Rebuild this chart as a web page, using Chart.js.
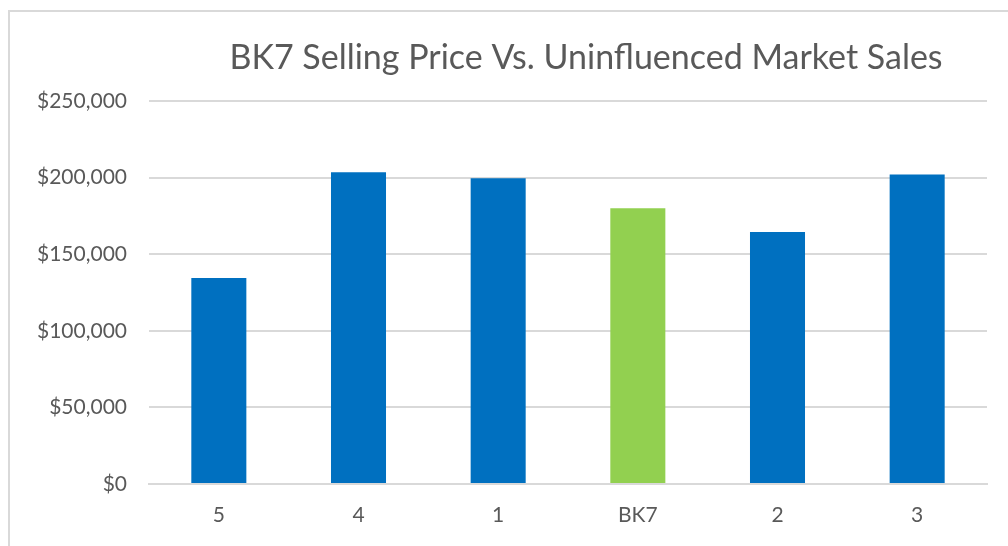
<!DOCTYPE html>
<html>
<head>
<meta charset="utf-8">
<script src="https://cdn.jsdelivr.net/npm/chart.js@4"></script>
<style>
  html, body { margin: 0; padding: 0; background: #fff; }
  #wrap { width: 1008px; height: 546px; position: relative; }
</style>
</head>
<body>
<div id="wrap"><canvas id="priceChart" width="1008" height="546"></canvas></div>
<script>
// chart data
var categories = ["5", "4", "1", "BK7", "2", "3"];
var prices = [134500, 203500, 199500, 180000, 164500, 202000];
var yTicks = [0, 50000, 100000, 150000, 200000, 250000];
var chartTitle = "BK7 Selling Price Vs. Uninfluenced Market Sales";

var blue = "#0070C0";
var green = "#92D050";
var barColors = categories.map(function (c) { return c === "BK7" ? green : blue; });

// outer frame, like the spreadsheet chart border
var framePlugin = {
    id: "frame",
    beforeDraw: function (chart) {
        var ctx = chart.ctx;
        ctx.save();
        ctx.fillStyle = "#fff";
        ctx.fillRect(0, 0, chart.width, chart.height);
        ctx.strokeStyle = "#d9d9d9";
        ctx.lineWidth = 2;
        ctx.strokeRect(9, 11, chart.width + 10, chart.height + 10);
        ctx.restore();
    }
};

var titlePlugin = {
    id: "customTitle",
    afterDraw: function (chart) {
        var ctx = chart.ctx;
        ctx.save();
        ctx.font = "34px Lato";
        ctx.fillStyle = "#595959";
        ctx.textAlign = "center";
        ctx.textBaseline = "middle";
        ctx.fillText(chartTitle, 586, 58);
        ctx.restore();
    }
};

var ctx = document.getElementById("priceChart").getContext("2d");
var chart = new Chart(ctx, {
    type: "bar",
    data: {
        labels: categories,
        datasets: [{
            data: prices,
            backgroundColor: barColors,
            borderWidth: 0,
            categoryPercentage: 1,
            barPercentage: 0.394
        }]
    },
    options: {
        responsive: false,
        animation: false,
        layout: { padding: { left: 0, right: 21, top: 101, bottom: 0 } },
        plugins: {
            legend: { display: false },
            tooltip: { enabled: false }
        },
        scales: {
            x: {
                grid: { display: false, drawTicks: false },
                border: { color: "#d9d9d9", width: 2 },
                ticks: { color: "#595959", font: { family: "Lato", size: 21 }, padding: 19 },
                afterFit: function (scale) { scale.height = 62; }
            },
            y: {
                min: 0,
                max: 250000,
                afterBuildTicks: function (scale) {
                    scale.ticks = yTicks.map(function (v) { return { value: v }; });
                },
                grid: { color: "#d9d9d9", lineWidth: 2, drawTicks: false },
                border: { display: false },
                ticks: {
                    color: "#595959",
                    font: { family: "Lato", size: 21 },
                    padding: 22,
                    callback: function (v) { return "$" + v.toLocaleString("en-US"); }
                },
                afterFit: function (scale) { scale.width = 149; }
            }
        }
    },
    plugins: [framePlugin, titlePlugin]
});
</script>
</body>
</html>
